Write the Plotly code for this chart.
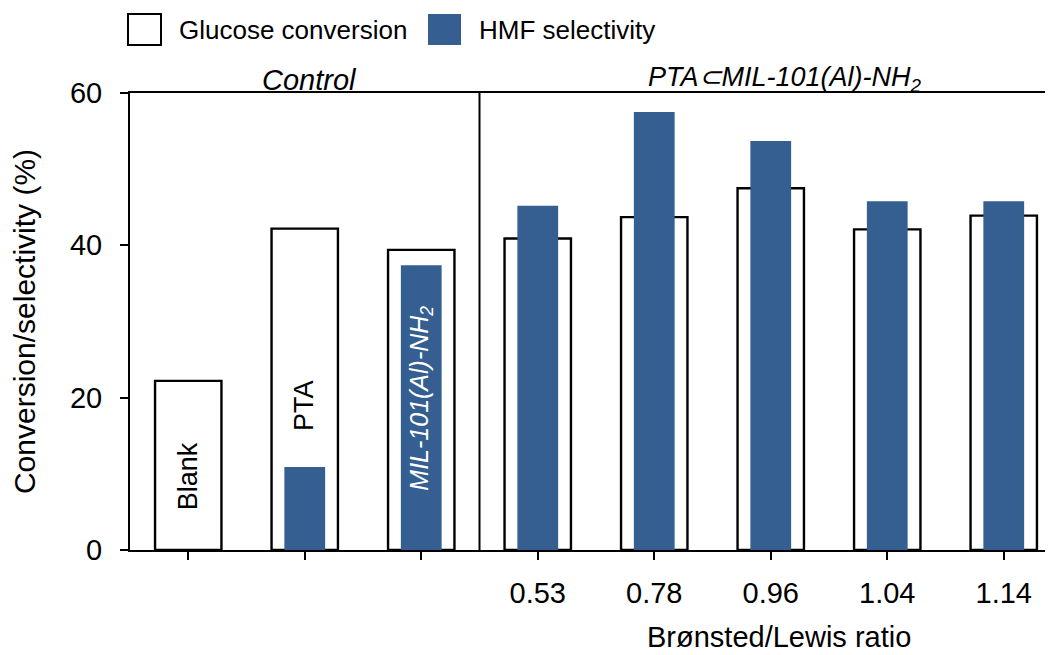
import plotly.graph_objects as go

categories = ["Blank", "PTA", "MIL", "0.53", "0.78", "0.96", "1.04", "1.14"]
tick_labels = ["0.53", "0.78", "0.96", "1.04", "1.14"]
glucose_conversion = [22.2, 42.2, 39.4, 40.9, 43.7, 47.5, 42.1, 43.9]
hmf_selectivity = [None, 10.9, 37.4, 45.2, 57.5, 53.7, 45.8, 45.8]

BLUE = "#365F91"
FONT = "Arial, Liberation Sans, sans-serif"
xpos = list(range(len(categories)))

fig = go.Figure()
fig.add_trace(go.Bar(
    x=xpos, y=glucose_conversion, name="Glucose conversion", width=0.57,
    marker=dict(color="white", line=dict(color="black", width=2.4)),
    showlegend=False,
))
fig.add_trace(go.Bar(
    x=xpos, y=hmf_selectivity, name="HMF selectivity", width=0.35,
    marker=dict(color=BLUE, line=dict(width=0)),
    showlegend=False,
))

# page has an 8px body margin; compensate so the figure lands at page coords
OFF = 8
W, H = 1053 - OFF, 655 - OFF
ml, mr, mt, mb = 130 - OFF, 0, 93 - OFF, 105
pw, ph = W - ml - mr, H - mt - mb

def px(x):
    # page pixel -> paper x
    return (x - OFF - ml) / pw

def py(y):
    # page pixel -> paper y
    return (H - mb - (y - OFF)) / ph

shapes = []
annotations = []

# divider between control and PTA⊂MIL groups
shapes.append(dict(type="line", xref="x", yref="y", x0=2.5, x1=2.5, y0=0, y1=60,
                   line=dict(color="black", width=2)))

# custom legend
shapes.append(dict(type="rect", xref="paper", yref="paper",
                   x0=px(128), x1=px(161), y0=py(45), y1=py(14),
                   fillcolor="white", line=dict(color="black", width=2)))
shapes.append(dict(type="rect", xref="paper", yref="paper",
                   x0=px(428), x1=px(461), y0=py(45), y1=py(14),
                   fillcolor=BLUE, line=dict(width=0)))
annotations.append(dict(xref="paper", yref="paper", x=px(177), y=py(30),
                        text="Glucose conversion", showarrow=False,
                        xanchor="left", yanchor="middle",
                        font=dict(family=FONT, size=26, color="black")))
annotations.append(dict(xref="paper", yref="paper", x=px(477), y=py(30),
                        text="HMF selectivity", showarrow=False,
                        xanchor="left", yanchor="middle",
                        font=dict(family=FONT, size=26, color="black")))

# group headers
annotations.append(dict(xref="x", yref="paper", x=1.04, y=py(80),
                        text="<i>Control</i>", showarrow=False,
                        xanchor="center", yanchor="middle",
                        font=dict(family=FONT, size=29, color="black")))
annotations.append(dict(xref="x", yref="paper", x=5.12, y=py(79),
                        text="<i>PTA⊂MIL-101(Al)-NH<sub>2</sub></i>", showarrow=False,
                        xanchor="center", yanchor="middle",
                        font=dict(family=FONT, size=27, color="black")))

# in-bar labels
annotations.append(dict(xref="x", yref="y", x=0, y=9.7, text="Blank",
                        textangle=-90, showarrow=False,
                        font=dict(family=FONT, size=27, color="black")))
annotations.append(dict(xref="x", yref="y", x=1, y=19.0, text="PTA",
                        textangle=-90, showarrow=False,
                        font=dict(family=FONT, size=27, color="black")))
annotations.append(dict(xref="x", yref="y", x=2, y=19.9,
                        text="<i>MIL-101(Al)-NH<sub>2</sub></i>",
                        textangle=-90, showarrow=False,
                        font=dict(family=FONT, size=25, color="white")))

# x-axis title
annotations.append(dict(xref="x", yref="paper", x=5.07, y=py(637),
                        text="Brønsted/Lewis ratio", showarrow=False,
                        xanchor="center", yanchor="middle",
                        font=dict(family=FONT, size=29, color="black")))

fig.update_layout(
    width=W, height=H,
    margin=dict(l=ml, r=mr, t=mt, b=mb, autoexpand=False),
    paper_bgcolor="white", plot_bgcolor="white",
    barmode="overlay",
    font=dict(family=FONT, size=27, color="black"),
    shapes=shapes, annotations=annotations,
    xaxis=dict(
        range=[-0.5, -0.5 + pw / 116.5],
        tickmode="array", tickvals=xpos[3:], ticktext=tick_labels,
        ticks="outside", ticklen=8, tickwidth=2, tickcolor="black",
        minor=dict(tickmode="array", tickvals=xpos[:3], ticks="outside",
                   ticklen=8, tickwidth=2, tickcolor="black", showgrid=False),
        showline=True, linecolor="black", linewidth=2, mirror=True,
        showgrid=False, zeroline=False, ticklabelstandoff=8,
        tickfont=dict(family=FONT, size=29, color="black"),
    ),
    yaxis=dict(
        range=[0, 60], tickvals=[0, 20, 40, 60],
        ticks="outside", ticklen=8, tickwidth=2, tickcolor="black",
        showline=True, linecolor="black", linewidth=2,
        showgrid=False, zeroline=False, ticklabelstandoff=12,
        tickfont=dict(family=FONT, size=29, color="black"),
        title=dict(text="Conversion/selectivity (%)", standoff=30,
                   font=dict(family=FONT, size=30, color="black")),
    ),
)

fig.write_html("out.html")
